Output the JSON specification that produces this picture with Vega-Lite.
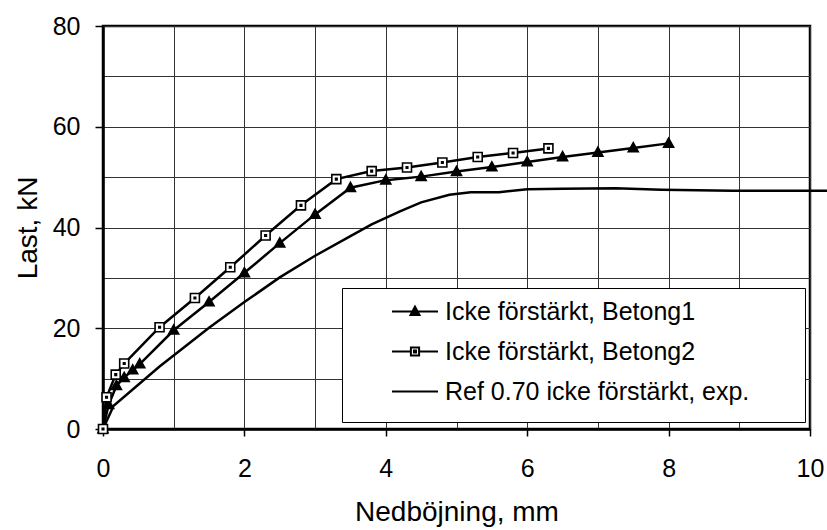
{
  "$schema": "https://vega.github.io/schema/vega-lite/v6.json",
  "autosize": "none",
  "width": 707,
  "height": 403,
  "padding": {"left": 103, "top": 26, "right": 17, "bottom": 101},
  "background": "white",
  "config": {
    "view": {"stroke": "black", "strokeWidth": 2.5},
    "font": "Liberation Sans",
    "axis": {"labelFont": "Liberation Sans", "titleFont": "Liberation Sans", "labelColor": "black", "titleColor": "black", "titleFontWeight": "normal"}
  },
  "data": {"values": [
    {"x": 0, "y": 0, "s": "Icke förstärkt, Betong1"},
    {"x": 0.08, "y": 4.8, "s": "Icke förstärkt, Betong1"},
    {"x": 0.19, "y": 8.6, "s": "Icke förstärkt, Betong1"},
    {"x": 0.3, "y": 10.2, "s": "Icke förstärkt, Betong1"},
    {"x": 0.42, "y": 11.7, "s": "Icke förstärkt, Betong1"},
    {"x": 0.52, "y": 12.9, "s": "Icke förstärkt, Betong1"},
    {"x": 1.0, "y": 19.6, "s": "Icke förstärkt, Betong1"},
    {"x": 1.5, "y": 25.2, "s": "Icke förstärkt, Betong1"},
    {"x": 2.0, "y": 31.0, "s": "Icke förstärkt, Betong1"},
    {"x": 2.5, "y": 36.9, "s": "Icke förstärkt, Betong1"},
    {"x": 3.0, "y": 42.6, "s": "Icke förstärkt, Betong1"},
    {"x": 3.5, "y": 47.9, "s": "Icke förstärkt, Betong1"},
    {"x": 4.0, "y": 49.4, "s": "Icke förstärkt, Betong1"},
    {"x": 4.5, "y": 50.1, "s": "Icke förstärkt, Betong1"},
    {"x": 5.0, "y": 51.1, "s": "Icke förstärkt, Betong1"},
    {"x": 5.5, "y": 52.0, "s": "Icke förstärkt, Betong1"},
    {"x": 6.0, "y": 53.0, "s": "Icke förstärkt, Betong1"},
    {"x": 6.5, "y": 54.0, "s": "Icke förstärkt, Betong1"},
    {"x": 7.0, "y": 54.9, "s": "Icke förstärkt, Betong1"},
    {"x": 7.5, "y": 55.8, "s": "Icke förstärkt, Betong1"},
    {"x": 8.0, "y": 56.7, "s": "Icke förstärkt, Betong1"},
    {"x": 0, "y": 0, "s": "Icke förstärkt, Betong2"},
    {"x": 0.05, "y": 6.3, "s": "Icke förstärkt, Betong2"},
    {"x": 0.18, "y": 10.8, "s": "Icke förstärkt, Betong2"},
    {"x": 0.3, "y": 13.0, "s": "Icke förstärkt, Betong2"},
    {"x": 0.8, "y": 20.2, "s": "Icke förstärkt, Betong2"},
    {"x": 1.3, "y": 26.0, "s": "Icke förstärkt, Betong2"},
    {"x": 1.8, "y": 32.1, "s": "Icke förstärkt, Betong2"},
    {"x": 2.3, "y": 38.4, "s": "Icke förstärkt, Betong2"},
    {"x": 2.8, "y": 44.4, "s": "Icke förstärkt, Betong2"},
    {"x": 3.3, "y": 49.6, "s": "Icke förstärkt, Betong2"},
    {"x": 3.8, "y": 51.2, "s": "Icke förstärkt, Betong2"},
    {"x": 4.3, "y": 51.9, "s": "Icke förstärkt, Betong2"},
    {"x": 4.8, "y": 52.9, "s": "Icke förstärkt, Betong2"},
    {"x": 5.3, "y": 54.0, "s": "Icke förstärkt, Betong2"},
    {"x": 5.8, "y": 54.8, "s": "Icke förstärkt, Betong2"},
    {"x": 6.3, "y": 55.7, "s": "Icke förstärkt, Betong2"},
    {"x": 0, "y": 0, "s": "Ref 0.70 icke förstärkt, exp."},
    {"x": 0.15, "y": 4.6, "s": "Ref 0.70 icke förstärkt, exp."},
    {"x": 0.8, "y": 12.4, "s": "Ref 0.70 icke förstärkt, exp."},
    {"x": 1.5, "y": 20.1, "s": "Ref 0.70 icke förstärkt, exp."},
    {"x": 2.0, "y": 25.2, "s": "Ref 0.70 icke förstärkt, exp."},
    {"x": 2.5, "y": 30.1, "s": "Ref 0.70 icke förstärkt, exp."},
    {"x": 3.0, "y": 34.4, "s": "Ref 0.70 icke förstärkt, exp."},
    {"x": 3.5, "y": 38.3, "s": "Ref 0.70 icke förstärkt, exp."},
    {"x": 3.8, "y": 40.6, "s": "Ref 0.70 icke förstärkt, exp."},
    {"x": 4.2, "y": 43.2, "s": "Ref 0.70 icke förstärkt, exp."},
    {"x": 4.5, "y": 45.0, "s": "Ref 0.70 icke förstärkt, exp."},
    {"x": 4.9, "y": 46.5, "s": "Ref 0.70 icke förstärkt, exp."},
    {"x": 5.2, "y": 47.0, "s": "Ref 0.70 icke förstärkt, exp."},
    {"x": 5.6, "y": 47.0, "s": "Ref 0.70 icke förstärkt, exp."},
    {"x": 6.0, "y": 47.6, "s": "Ref 0.70 icke förstärkt, exp."},
    {"x": 6.5, "y": 47.7, "s": "Ref 0.70 icke förstärkt, exp."},
    {"x": 7.25, "y": 47.8, "s": "Ref 0.70 icke förstärkt, exp."},
    {"x": 7.9, "y": 47.5, "s": "Ref 0.70 icke förstärkt, exp."},
    {"x": 8.9, "y": 47.3, "s": "Ref 0.70 icke förstärkt, exp."},
    {"x": 10.0, "y": 47.3, "s": "Ref 0.70 icke förstärkt, exp."},
    {"x": 10.24, "y": 47.3, "s": "Ref 0.70 icke förstärkt, exp."}
  ]},
  "encoding": {
    "x": {"field": "x", "type": "quantitative",
      "scale": {"domain": [0, 10], "nice": false, "zero": false},
      "axis": {
        "values": [0, 1, 2, 3, 4, 5, 6, 7, 8, 9, 10],
        "grid": true, "gridColor": "#333", "gridWidth": 1, "gridOpacity": 1,
        "tickSize": 7, "tickColor": "black", "tickWidth": 1.5,
        "tickOpacity": {"condition": {"test": "datum.value % 2 === 0", "value": 1}, "value": 0},
        "labelExpr": "datum.value % 2 === 0 ? datum.label : ''",
        "labelFontSize": 25, "labelPadding": 20, "labelFlush": false, "labelOverlap": false,
        "domainColor": "black", "domainWidth": 2.5,
        "title": "Nedböjning, mm", "titleFontSize": 28,
        "titleX": 353.5, "titleY": 91, "titleBaseline": "alphabetic", "titleAlign": "center"
      }
    },
    "y": {"field": "y", "type": "quantitative",
      "scale": {"domain": [0, 80], "nice": false},
      "axis": {
        "values": [0, 10, 20, 30, 40, 50, 60, 70, 80],
        "grid": true, "gridColor": "#333", "gridWidth": 1, "gridOpacity": 1,
        "tickSize": 8, "tickColor": "black", "tickWidth": 1.5,
        "tickOpacity": {"condition": {"test": "datum.value % 20 === 0", "value": 1}, "value": 0},
        "labelExpr": "datum.value % 20 === 0 ? datum.label : ''",
        "labelFontSize": 25, "labelPadding": 15, "labelOverlap": false,
        "domainColor": "black", "domainWidth": 2.5,
        "title": "Last, kN", "titleFontSize": 28, "titleAngle": -90,
        "titleX": -67, "titleY": 201.5, "titleBaseline": "alphabetic", "titleAlign": "center"
      }
    }
  },
  "layer": [
    {
      "mark": {"type": "line", "strokeWidth": 2.5},
      "encoding": {
        "color": {"field": "s", "type": "nominal",
          "scale": {"domain": ["Icke förstärkt, Betong1", "Icke förstärkt, Betong2", "Ref 0.70 icke förstärkt, exp."], "range": ["black", "black", "black"]},
          "legend": {
            "title": null, "orient": "none", "legendX": 239, "legendY": 262,
            "strokeColor": "black", "fillColor": "white", "padding": 3,
            "symbolSize": 1521, "symbolStrokeWidth": 2, "rowPadding": 6,
            "symbolOffset": 49.5, "labelOffset": 9.5,
            "labelFont": "Liberation Sans", "labelFontSize": 25, "labelColor": "black", "labelLimit": 0,
            "encode": {"symbols": {"update": {
              "shape": [
                {"test": "datum.value === 'Icke förstärkt, Betong1'", "value": "M-1.18,0L1.18,0M0,-0.25L0.23,0.18L-0.23,0.18ZM19.6,0"},
                {"test": "datum.value === 'Icke förstärkt, Betong2'", "value": "M-1.18,0L-0.21,0M0.21,0L1.18,0M-0.21,-0.21L0.21,-0.21L0.21,0.21L-0.21,0.21ZM-0.05,-0.05L0.05,-0.05L0.05,0.05L-0.05,0.05ZM19.6,0"},
                {"value": "M-1.18,0L1.18,0M19.6,0M0,1.2"}
              ],
              "fill": [
                {"test": "datum.value === 'Icke förstärkt, Betong1'", "value": "black"},
                {"value": "white"}
              ],
              "stroke": {"value": "black"},
              "strokeWidth": {"value": 2},
              "opacity": {"value": 1}
            }}}
          }
        }
      }
    },
    {
      "transform": [{"filter": "datum.s !== 'Ref 0.70 icke förstärkt, exp.'"}],
      "mark": {"type": "point", "size": 100, "stroke": "black", "strokeWidth": 1.6, "opacity": 1},
      "encoding": {
        "shape": {"field": "s", "type": "nominal",
          "scale": {"domain": ["Icke förstärkt, Betong1", "Icke förstärkt, Betong2"], "range": ["M0,-1.05L1,0.75L-1,0.75Z", "M-0.9,-0.9L0.9,-0.9L0.9,0.9L-0.9,0.9ZM-0.15,-0.15L0.15,-0.15L0.15,0.15L-0.15,0.15Z"]},
          "legend": null},
        "fill": {"field": "s", "type": "nominal",
          "scale": {"domain": ["Icke förstärkt, Betong1", "Icke förstärkt, Betong2"], "range": ["black", "white"]},
          "legend": null}
      }
    }
  ]
}
